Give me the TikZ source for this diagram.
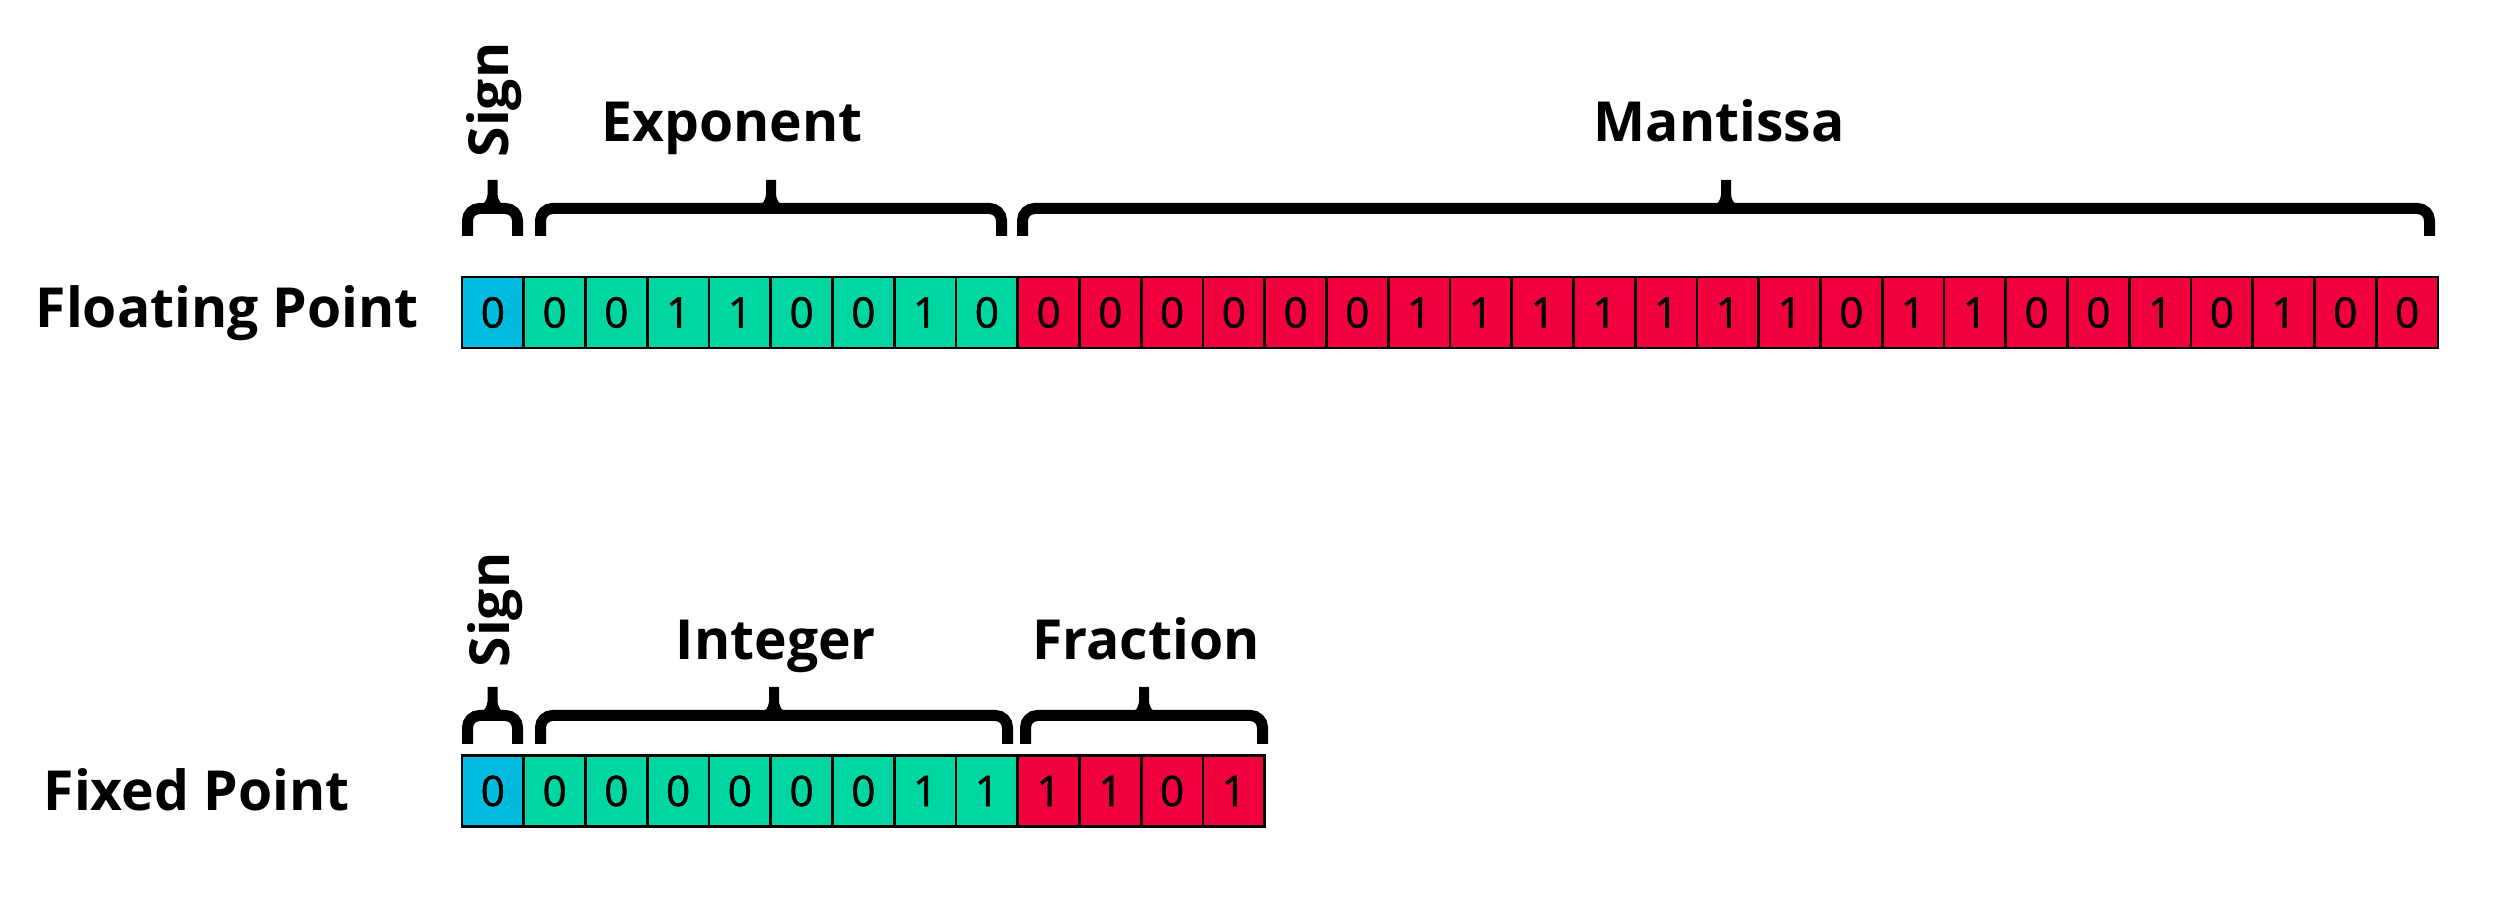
\documentclass[tikz,border=0pt]{standalone}
\usepackage{fontspec}
\setmainfont{Open Sans}
\usepackage{tikz}

\definecolor{signblue}{HTML}{00BBDD}
\definecolor{expgreen}{HTML}{00D6A2}
\definecolor{mantred}{HTML}{F0003C}

\tikzset{
  bitcell/.style={draw=black, line width=0.8pt, minimum width=0.6175cm,
    minimum height=0.71cm, inner sep=0pt,
    font=\fontsize{12}{14}\selectfont\addfontfeatures{FakeBold=1.2}},
  fieldlabel/.style={font=\fontsize{15.7}{19}\selectfont\bfseries, inner sep=0pt, anchor=base},
  bracebar/.style={line width=0.11cm, rounded corners=0.12cm},
}

\begin{document}
\begin{tikzpicture}[x=0.01cm, y=-0.01cm]
    \useasboundingbox (0,0) rectangle (2500,901);

    % floating point word
    \node[fieldlabel, anchor=base west] (floatlabel) at (35,328) {Floating Point};
    \node[bitcell, fill=signblue] (fs) at ({462+0.5*61.75}, 312.5) {0};
    \foreach \b [count=\i] in {0,0,1,1,0,0,1,0}
        \node[bitcell, fill=expgreen] (fe\i) at ({462+(\i+0.5)*61.75}, 312.5) {\b};
    \foreach \b [count=\i] in {0,0,0,0,0,0,1,1,1,1,1,1,1,0,1,1,0,0,1,0,1,0,0}
        \node[bitcell, fill=mantred] (fm\i) at ({462+(\i+8.5)*61.75}, 312.5) {\b};

    \draw[bracebar] (467.5,236) |- (492.5,208.5) -| (517.5,236);
    \draw[bracebar] (540.5,236) |- (771,208.5) -| (1001.5,236);
    \draw[bracebar] (1022.5,236) |- (1726,208.5) -| (2429.5,236);

    \node[fieldlabel, rotate=90] (fsignlabel) at (508,100) {Sign};
    \node[fieldlabel] (explabel) at (732,142) {Exponent};
    \node[fieldlabel] (mantlabel) at (1719,142) {Mantissa};

    % fixed point word
    \node[fieldlabel, anchor=base west] (fixlabel) at (43,811) {Fixed Point};
    \node[bitcell, fill=signblue] (xs) at ({462+0.5*61.75}, 791) {0};
    \foreach \b [count=\i] in {0,0,0,0,0,0,1,1}
        \node[bitcell, fill=expgreen] (xi\i) at ({462+(\i+0.5)*61.75}, 791) {\b};
    \foreach \b [count=\i] in {1,1,0,1}
        \node[bitcell, fill=mantred] (xf\i) at ({462+(\i+8.5)*61.75}, 791) {\b};

    \draw[bracebar] (467.5,744) |- (492.5,715.5) -| (517.5,744);
    \draw[bracebar] (540.5,744) |- (774,715.5) -| (1007.5,744);
    \draw[bracebar] (1025.5,744) |- (1144,715.5) -| (1262.5,744);

    \node[fieldlabel, rotate=90] (xsignlabel) at (509,610) {Sign};
    \node[fieldlabel] (intlabel) at (776,660) {Integer};
    \node[fieldlabel] (fraclabel) at (1146,660) {Fraction};

    % brace tips
    \foreach \cx/\ty/\yb in {492.5/180/208.5, 771/180/208.5, 1726/180/208.5,
                              492.5/687/715.5, 774/687/715.5, 1144/687/715.5}
        \fill (\cx-5,\ty) -- (\cx+5,\ty) -- (\cx+5,\yb-14)
            .. controls (\cx+6,\yb-7) and (\cx+8,\yb-5) .. (\cx+12,\yb-4)
            -- (\cx-12,\yb-4)
            .. controls (\cx-8,\yb-5) and (\cx-6,\yb-7) .. (\cx-5,\yb-14) -- cycle;
\end{tikzpicture}
\end{document}
